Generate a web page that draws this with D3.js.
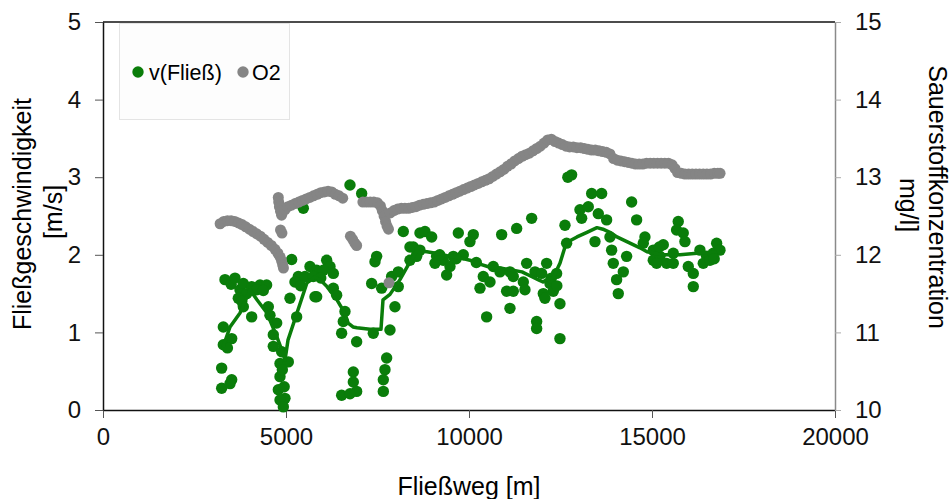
<!DOCTYPE html>
<html>
<head>
<meta charset="utf-8">
<script src="https://cdn.jsdelivr.net/npm/d3@7"></script>
<style>
  body { margin: 0; background: #fff; }
  text { font-family: "Liberation Sans", Arial, sans-serif; }
</style>
</head>
<body>
<svg id="chart" width="952" height="499"></svg>
<script>
// Fließgeschwindigkeit (green) and O2 (gray) along the Fließweg

var xTicks = [0, 5000, 10000, 15000, 20000];
var leftTicks = [0, 1, 2, 3, 4, 5];
var rightTicks = [10, 11, 12, 13, 14, 15];

// [Fließweg m, v m/s]
var velocity = [
  [3242,0.28],[3242,0.54],[3287,0.84],[3287,1.07],[3516,0.39],[3470,0.34],[3516,0.92],[3400,0.80],
  [3333,1.68],[3500,1.62],[3606,1.70],[3743,1.55],[3834,1.63],[3925,1.50],[3697,1.44],[3834,1.33],
  [3790,1.40],[4062,1.59],[4062,1.20],[4289,1.61],[4200,1.55],[4471,1.61],[4380,1.54],[4517,1.33],
  [4562,1.22],[4745,1.12],[4653,0.97],[4653,0.82],[4882,0.75],[4836,0.60],[5063,0.62],[4836,0.43],
  [4790,0.26],[4972,0.15],[4836,0.13],[4927,0.04],[4950,0.30],[4900,0.52],
  [5155,1.94],[5473,2.60],[5655,1.85],[5838,1.80],[5336,1.72],[5245,1.65],[5519,1.72],[5792,1.46],
  [5109,1.44],[5291,1.20],[5747,1.72],[5838,1.46],[6111,1.93],[6202,1.85],[6293,1.76],[6020,1.80],
  [6293,1.57],[6384,1.48],[6611,1.27],[6566,1.14],[6520,0.99],[6930,0.88],[6748,2.90],[7067,2.79],
  [6839,0.49],[6839,0.36],[6930,0.24],[6520,0.19],[6748,0.21],[5950,1.70],[5400,1.60],
  [7750,0.67],[7704,0.52],[7659,0.39],[7659,0.24],[7385,0.99],[7841,1.03],[7977,1.33],[7340,1.63],
  [7613,1.57],[8068,1.59],[7886,1.72],[8068,1.78],[7431,1.91],[7477,1.98],[8205,2.30],[8387,2.10],
  [8570,2.00],[8660,2.28],
  [8797,2.30],[8980,2.23],[9708,2.28],[10117,2.26],[10026,2.17],[10892,2.26],[11302,2.34],[8478,2.10],
  [8660,2.06],[8387,1.93],[9115,1.98],[9297,1.93],[9571,1.98],[9844,2.00],[9480,1.85],[9389,1.74],
  [9070,1.89],[10664,1.85],[10846,1.78],[11119,1.78],[10390,1.72],[10573,1.65],[10300,1.57],[11028,1.53],
  [11119,1.31],[10482,1.20],[8570,1.98],[9200,2.00],[9650,1.95],[10200,1.90],
  [12804,3.03],[12700,3.00],[13351,2.79],[13624,2.79],[13032,2.58],[13259,2.62],[13078,2.47],[13533,2.53],
  [13760,2.45],[13851,2.23],[13897,2.06],[13442,2.17],[12622,2.38],[11712,2.47],[12667,2.15],[11575,1.89],
  [12121,1.89],[11803,1.78],[11985,1.76],[12394,1.76],[11210,1.72],[11484,1.65],[12212,1.63],[12303,1.53],
  [12030,1.50],[11210,1.53],[11529,1.55],[12075,1.44],[12485,1.37],[11848,1.14],[11848,1.05],[12485,0.92],
  [13942,1.89],[14033,1.68],[14079,1.50],[12250,1.70],[12400,1.60],
  [14443,2.68],[14580,2.45],[14807,2.23],[14762,2.15],[14307,1.98],[14216,1.78],[15035,2.06],[15308,2.13],
  [15035,1.93],[15217,1.98],[15399,1.89],[15126,1.89],[15581,2.02],[15717,2.43],[15672,2.32],[15854,2.28],
  [15900,2.17],[15991,1.85],[16128,1.76],[16128,1.59],[16310,2.06],[16492,1.98],[16401,1.89],[16583,1.93],
  [16766,2.15],[16675,2.02],[16857,2.06],[15581,1.89],[15200,2.10],[16700,1.95]
];

// trend line through the velocity points
var velocityTrend = [
  [3278,0.81],[3470,1.07],[3743,1.25],[3934,1.46],[4016,1.55],[4207,1.42],[4480,1.25],[4754,0.94],
  [4918,0.73],[4972,0.64],[5054,0.90],[5300,1.25],[5573,1.64],[5792,1.71],[5928,1.68],[6120,1.59],
  [6393,1.42],[6566,1.28],[6640,1.20],[6700,1.12],[6830,1.07],[6939,1.06],[7294,1.04],[7595,1.04],
  [7650,1.42],[7841,1.49],[8114,1.68],[8387,1.91],[8578,2.05],[8852,2.04],[9207,2.01],[9480,1.98],
  [9753,1.96],[10026,1.93],[10300,1.88],[10573,1.84],[10846,1.83],[11201,1.80],[11447,1.78],[11666,1.73],
  [11885,1.68],[12021,1.65],[12158,1.69],[12294,1.70],[12485,1.89],[12622,2.10],[12758,2.18],[12950,2.23],
  [13223,2.29],[13496,2.35],[13660,2.33],[13851,2.29],[14042,2.23],[14398,2.15],[14671,2.09],[14862,2.04],
  [15299,2.00],[15764,2.00],[16228,2.02],[16775,2.04]
];

// [Fließweg m, O2 mg/l]
var oxygen = [
  [3200,12.40],[3300,12.43],[3400,12.44],[3500,12.44],[3600,12.43],[3700,12.41],[3800,12.39],[3900,12.36],
  [4000,12.33],[4100,12.30],[4200,12.27],[4300,12.24],[4400,12.20],[4500,12.16],[4600,12.12],[4700,12.07],
  [4780,12.02],[4840,11.97],[4880,11.92],[4910,11.87],[4930,11.83],
  [4850,12.32],[4890,12.28],
  [4790,12.74],[4800,12.68],[4820,12.62],[4850,12.56],[4880,12.51],
  [4970,12.58],[5050,12.62],[5150,12.64],[5250,12.66],[5350,12.68],[5450,12.70],[5550,12.72],[5650,12.74],
  [5750,12.76],[5850,12.78],[5950,12.80],[6050,12.81],[6150,12.82],[6250,12.81],[6350,12.78],[6450,12.76],
  [6550,12.73],
  [6760,12.24],[6820,12.20],[6880,12.15],[6930,12.12],
  [7100,12.68],[7200,12.68],[7300,12.68],[7400,12.68],[7500,12.67],[7580,12.63],[7630,12.57],[7680,12.50],
  [7720,12.43],[7760,12.37],[7800,12.33],
  [7814,11.64],
  [7850,12.54],[7950,12.57],[8050,12.59],[8150,12.60],[8250,12.60],[8350,12.60],[8450,12.61],[8550,12.62],
  [8650,12.64],[8750,12.65],[8850,12.66],[8950,12.67],[9050,12.68],[9150,12.70],[9250,12.72],[9350,12.74],
  [9450,12.76],[9550,12.78],[9650,12.80],[9750,12.82],[9850,12.84],[9950,12.86],[10050,12.88],[10150,12.90],
  [10250,12.92],[10350,12.94],[10450,12.96],[10550,12.98],[10650,13.01],[10750,13.04],[10850,13.07],[10950,13.10],
  [11050,13.14],[11150,13.17],[11250,13.21],[11350,13.24],[11450,13.27],[11550,13.29],[11650,13.31],[11750,13.34],
  [11850,13.37],[11950,13.40],[12050,13.44],[12150,13.48],[12250,13.49],[12350,13.46],[12450,13.44],[12550,13.42],
  [12650,13.40],[12750,13.39],[12850,13.39],[12950,13.38],[13050,13.38],[13150,13.37],[13250,13.36],[13350,13.35],
  [13450,13.35],[13550,13.34],[13650,13.33],[13750,13.32],[13850,13.30],[13950,13.24],[14050,13.22],[14150,13.21],
  [14250,13.20],[14350,13.19],[14450,13.18],[14550,13.17],[14650,13.17],[14750,13.17],[14850,13.18],[14950,13.18],
  [15050,13.18],[15150,13.18],[15250,13.18],[15350,13.18],[15450,13.18],[15550,13.16],[15630,13.11],[15700,13.06],
  [15800,13.05],[15900,13.04],[16000,13.04],[16100,13.04],[16200,13.04],[16300,13.04],[16400,13.04],[16500,13.04],
  [16600,13.04],[16700,13.05],[16800,13.05],[16860,13.05]
];

var green = "#0a7d0a", gray = "#858585";

var svg = d3.select("#chart"),
    plotLeft = 103, plotRight = 835, plotTop = 22, plotBottom = 410;

var x = d3.scaleLinear().domain([0, 20000]).range([plotLeft, plotRight]);
var yL = d3.scaleLinear().domain([0, 5]).range([plotBottom, plotTop]);
var yR = d3.scaleLinear().domain([10, 15]).range([plotBottom, plotTop]);

// top border
svg.append("line")
    .attr("x1", plotLeft).attr("x2", plotRight)
    .attr("y1", plotTop).attr("y2", plotTop)
    .attr("stroke", "#111").attr("stroke-width", 1.5);

var gx = svg.append("g")
    .attr("transform", "translate(0," + plotBottom + ")")
    .call(d3.axisBottom(x).tickValues(xTicks).tickFormat(d3.format("d"))
        .tickSize(8).tickPadding(10).tickSizeOuter(0));

var gl = svg.append("g")
    .attr("transform", "translate(" + plotLeft + ",0)")
    .call(d3.axisLeft(yL).tickValues(leftTicks).tickFormat(d3.format("d"))
        .tickSize(8).tickPadding(14).tickSizeOuter(0));

var gr = svg.append("g")
    .attr("transform", "translate(" + plotRight + ",0)")
    .call(d3.axisRight(yR).tickValues(rightTicks).tickFormat(d3.format("d"))
        .tickSize(6).tickPadding(14).tickSizeOuter(0));

[gx, gl].forEach(function (g) {
    g.select(".domain").attr("stroke", "#111").attr("stroke-width", 1.5);
    g.selectAll(".tick line").attr("stroke", "#555");
});
gr.select(".domain").attr("stroke", "#8a8a8a").attr("stroke-width", 1.5);
gr.selectAll(".tick line").attr("stroke", "#aaa");

svg.selectAll(".tick text")
    .attr("font-size", 24)
    .attr("font-family", "Liberation Sans, Arial, sans-serif")
    .attr("fill", "#111");

// velocity points, trend, then O2 on top
svg.append("g").selectAll("circle")
    .data(velocity)
    .enter().append("circle")
    .attr("cx", function (d) { return x(d[0]); })
    .attr("cy", function (d) { return yL(d[1]); })
    .attr("r", 5.7)
    .attr("fill", green);

svg.append("path")
    .datum(velocityTrend)
    .attr("fill", "none")
    .attr("stroke", green)
    .attr("stroke-width", 3.5)
    .attr("stroke-linejoin", "round")
    .attr("d", d3.line()
        .x(function (d) { return x(d[0]); })
        .y(function (d) { return yL(d[1]); }));

svg.append("g").selectAll("circle")
    .data(oxygen)
    .enter().append("circle")
    .attr("cx", function (d) { return x(d[0]); })
    .attr("cy", function (d) { return yR(d[1]); })
    .attr("r", 5.5)
    .attr("fill", gray);

// legend
var legend = svg.append("g");
legend.append("rect")
    .attr("x", 119.5).attr("y", 23.5)
    .attr("width", 170).attr("height", 96)
    .attr("fill", "#fdfdfd")
    .attr("stroke", "#e4e4e4");
legend.append("circle").attr("cx", 138).attr("cy", 72).attr("r", 5.7).attr("fill", green);
legend.append("text").attr("x", 149).attr("y", 79.5).attr("font-size", 21.5).text("v(Fließ)");
legend.append("circle").attr("cx", 243).attr("cy", 72).attr("r", 5.7).attr("fill", gray);
legend.append("text").attr("x", 252).attr("y", 79.5).attr("font-size", 21.5).text("O2");

// axis titles
svg.append("text")
    .attr("x", 469).attr("y", 495)
    .attr("text-anchor", "middle")
    .attr("font-size", 25)
    .text("Fließweg [m]");

svg.append("text")
    .attr("transform", "translate(31,214) rotate(-90)")
    .attr("text-anchor", "middle")
    .attr("font-size", 25)
    .text("Fließgeschwindigkeit");
svg.append("text")
    .attr("transform", "translate(62,212) rotate(-90)")
    .attr("text-anchor", "middle")
    .attr("font-size", 25)
    .text("[m/s]");

svg.append("text")
    .attr("transform", "translate(929,197) rotate(90)")
    .attr("text-anchor", "middle")
    .attr("font-size", 25)
    .text("Sauerstoffkonzentration");
svg.append("text")
    .attr("transform", "translate(900,205) rotate(90)")
    .attr("text-anchor", "middle")
    .attr("font-size", 25)
    .text("mg/l]");
</script>
</body>
</html>
